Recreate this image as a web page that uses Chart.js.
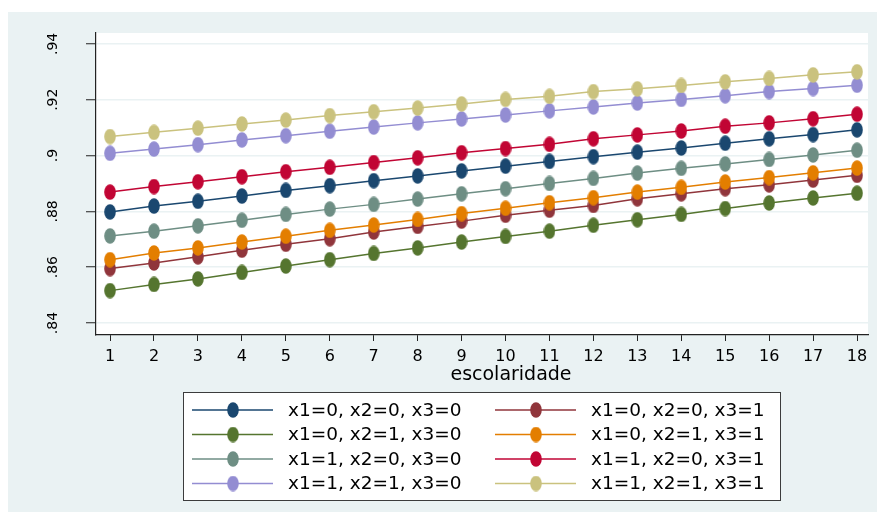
<!DOCTYPE html>
<html>
<head>
<meta charset="utf-8">
<script src="https://cdn.jsdelivr.net/npm/chart.js@4.4.1/dist/chart.umd.min.js"></script>
<style>
  html, body { margin: 0; padding: 0; background: #ffffff; }
  #wrap { width: 877px; height: 518px; }
</style>
</head>
<body>
<div id="wrap"><canvas id="c" width="877" height="518"></canvas></div>
<script>
// Years of schooling (x axis)
const escolaridade = [1, 2, 3, 4, 5, 6, 7, 8, 9, 10, 11, 12, 13, 14, 15, 16, 17, 18];

// Predicted values for each x1/x2/x3 combination
const p000 = [.8798, .8819, .8836, .8855, .8875, .8892, .8910, .8927, .8945, .8962, .8979, .8996, .9012, .9027, .9044, .9060, .9075, .9092];
const p001 = [.8595, .8615, .8637, .8661, .8682, .8702, .8726, .8746, .8765, .8786, .8804, .8821, .8845, .8863, .8881, .8895, .8912, .8929];
const p010 = [.8516, .8538, .8558, .8581, .8604, .8627, .8649, .8669, .8690, .8710, .8729, .8750, .8770, .8789, .8810, .8830, .8848, .8865];
const p011 = [.8627, .8651, .8669, .8690, .8711, .8732, .8751, .8771, .8792, .8811, .8831, .8849, .8869, .8886, .8905, .8921, .8938, .8955];
const p100 = [.8712, .8729, .8748, .8768, .8789, .8808, .8825, .8844, .8863, .8881, .8900, .8918, .8937, .8954, .8970, .8986, .9002, .9019];
const p101 = [.8869, .8889, .8906, .8924, .8942, .8958, .8975, .8992, .9010, .9025, .9040, .9060, .9074, .9088, .9105, .9117, .9132, .9148];
const p110 = [.9008, .9023, .9039, .9056, .9071, .9087, .9102, .9117, .9131, .9145, .9160, .9174, .9188, .9201, .9214, .9229, .9240, .9252];
const p111 = [.9068, .9083, .9098, .9113, .9127, .9143, .9157, .9170, .9185, .9201, .9212, .9229, .9239, .9251, .9264, .9276, .9289, .9300];

const seriesLabels = [
  "x1=0, x2=0, x3=0", "x1=0, x2=0, x3=1",
  "x1=0, x2=1, x3=0", "x1=0, x2=1, x3=1",
  "x1=1, x2=0, x3=0", "x1=1, x2=0, x3=1",
  "x1=1, x2=1, x3=0", "x1=1, x2=1, x3=1"
];
const seriesValues = [p000, p001, p010, p011, p100, p101, p110, p111];

// Y tick values and their printed labels
const yTickValues = [.84, .86, .88, .90, .92, .94];
const yTickLabels = [".84", ".86", ".88", ".9", ".92", ".94"];
const xTitle = "escolaridade";

// s2color palette
const colors = ["#1a476f", "#90353b", "#55752f", "#e37e00", "#6e8e84", "#c10534", "#938dd2", "#cac27e"];

const FONT = "'DejaVu Sans', sans-serif";

// Oval marker drawn once per colour
function ovalMarker(color) {
  const cv = document.createElement('canvas');
  cv.width = 12; cv.height = 16;
  const g = cv.getContext('2d');
  g.fillStyle = color;
  g.beginPath();
  g.ellipse(6, 8, 5.8, 7.8, 0, 0, Math.PI * 2);
  g.fill();
  return cv;
}

const datasets = seriesValues.map((vals, i) => ({
  label: seriesLabels[i],
  data: escolaridade.map((x, j) => ({ x: x, y: vals[j] })),
  borderColor: colors[i],
  backgroundColor: colors[i],
  borderWidth: 1.5,
  pointStyle: ovalMarker(colors[i]),
  pointRadius: 6,
  pointHoverRadius: 6,
  tension: 0,
  order: seriesValues.length - i
}));

// Background: light graph region with white plot region
const backdrop = {
  id: 'backdrop',
  beforeDraw(chart) {
    const { ctx, chartArea: a } = chart;
    ctx.save();
    ctx.fillStyle = '#ffffff';
    ctx.fillRect(0, 0, chart.width, chart.height);
    ctx.fillStyle = '#eaf2f3';
    ctx.fillRect(8, 12, chart.width - 8, chart.height - 18);
    ctx.fillStyle = '#ffffff';
    ctx.fillRect(a.left, a.top, a.right - a.left, a.bottom - a.top);
    ctx.restore();
  }
};

// Axis title and two-column boxed legend
const extras = {
  id: 'extras',
  afterDraw(chart) {
    const { ctx } = chart;
    ctx.save();
    ctx.fillStyle = '#000000';
    ctx.font = "19px " + FONT;
    ctx.textAlign = 'center';
    ctx.textBaseline = 'middle';
    ctx.fillText(xTitle, 511, 375);

    // legend frame
    const box = { left: 183.5, top: 392.5, right: 780.5, bottom: 500.5 };
    ctx.fillStyle = '#ffffff';
    ctx.fillRect(box.left, box.top, box.right - box.left, box.bottom - box.top);
    ctx.strokeStyle = '#3c3c3c';
    ctx.lineWidth = 1;
    ctx.strokeRect(box.left, box.top, box.right - box.left, box.bottom - box.top);

    const rowY = [410, 434.5, 459, 483.5];
    const colX = [192, 495];
    ctx.font = "18.5px " + FONT;
    ctx.textAlign = 'left';
    chart.data.datasets.forEach((ds, i) => {
      const col = i % 2, row = Math.floor(i / 2);
      const x0 = colX[col], y = rowY[row];
      ctx.strokeStyle = ds.borderColor;
      ctx.lineWidth = 1.5;
      ctx.beginPath();
      ctx.moveTo(x0, y);
      ctx.lineTo(x0 + 81, y);
      ctx.stroke();
      const m = ds.pointStyle;
      ctx.drawImage(m, x0 + 41 - m.width / 2, y - m.height / 2);
      ctx.fillStyle = '#000000';
      ctx.fillText(ds.label, x0 + 96, y + 1);
    });
    ctx.restore();
  }
};

new Chart(document.getElementById('c'), {
  type: 'line',
  data: { datasets: datasets },
  options: {
    responsive: false,
    animation: false,
    devicePixelRatio: 1,
    layout: { padding: { left: 8, top: 33, right: 9, bottom: 0 } },
    plugins: { legend: { display: false }, tooltip: { enabled: false } },
    scales: {
      x: {
        type: 'linear',
        min: 0.68,
        max: 18.25,
        afterBuildTicks(scale) { scale.ticks = escolaridade.map(v => ({ value: v })); },
        afterFit(scale) { scale.height = 183; },
        grid: { drawOnChartArea: false, drawTicks: true, tickLength: 6, tickColor: '#222222', tickWidth: 1 },
        border: { display: true, color: '#222222', width: 1.2 },
        ticks: {
          color: '#000000',
          font: { family: FONT, size: 16 },
          padding: 6,
          maxRotation: 0,
          autoSkip: false,
          callback: (v) => String(v)
        }
      },
      y: {
        type: 'linear',
        min: 0.8357,
        max: 0.9439,
        afterBuildTicks(scale) { scale.ticks = yTickValues.map(v => ({ value: v })); },
        afterFit(scale) { scale.width = 88; },
        grid: { color: '#eaf2f3', lineWidth: 1.5, drawTicks: true, tickLength: 10, tickColor: '#222222', tickWidth: 1 },
        border: { display: true, color: '#222222', width: 1.2 },
        ticks: {
          color: '#000000',
          font: { family: FONT, size: 14 },
          minRotation: 90,
          maxRotation: 90,
          crossAlign: 'center',
          padding: 22,
          autoSkip: false,
          callback: (v) => {
            const k = yTickValues.findIndex(t => Math.abs(t - v) < 1e-9);
            return k >= 0 ? yTickLabels[k] : '';
          }
        }
      }
    }
  },
  plugins: [backdrop, extras]
});
</script>
</body>
</html>
